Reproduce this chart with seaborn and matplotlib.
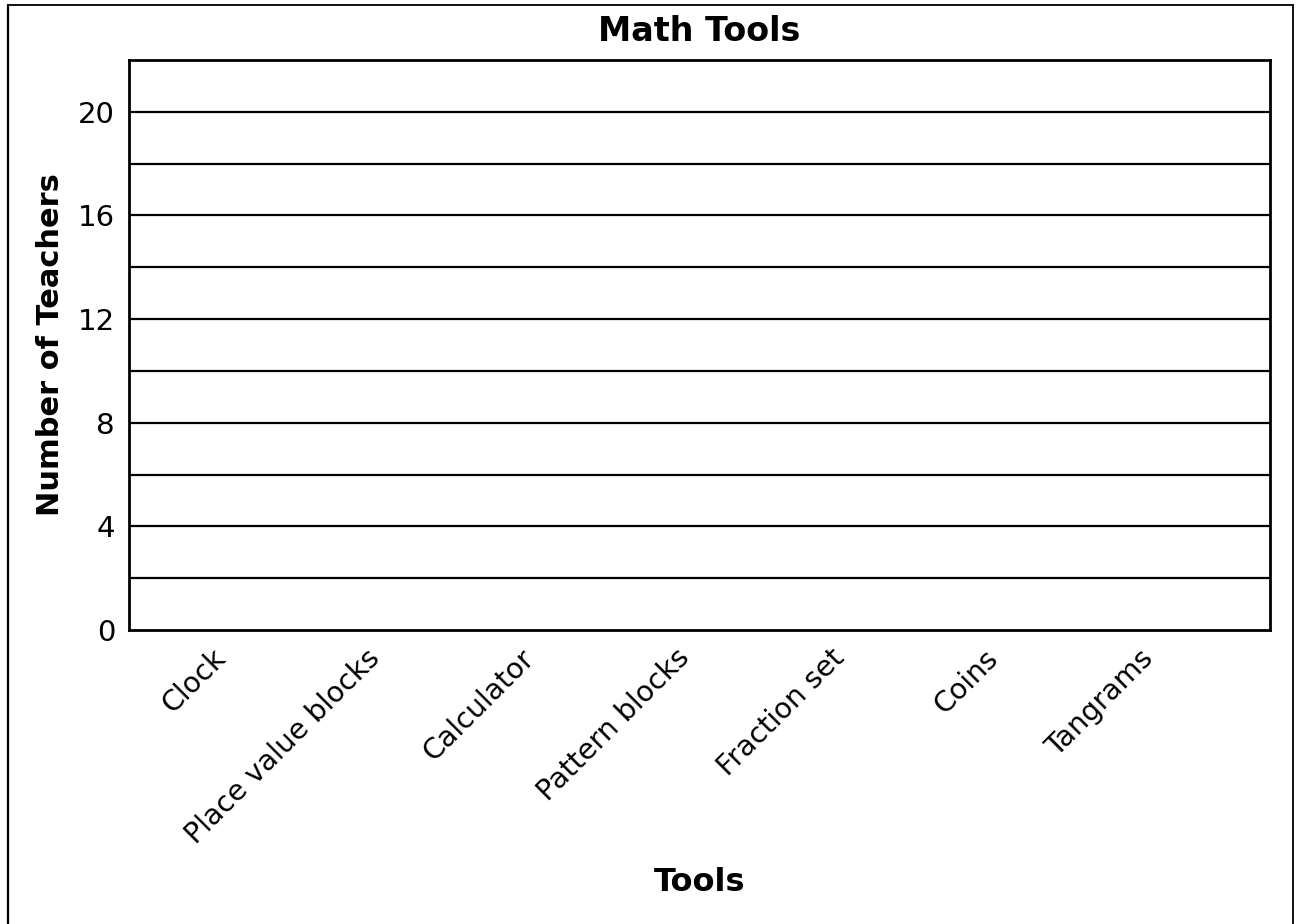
import matplotlib
matplotlib.use("Agg")
import matplotlib.pyplot as plt
from matplotlib.lines import Line2D
import seaborn as sns
import pandas as pd

# chart data (blank graph - no teachers counted yet)
tools = ['Clock', 'Place value blocks', 'Calculator', 'Pattern blocks',
         'Fraction set', 'Coins', 'Tangrams']
teachers = [0, 0, 0, 0, 0, 0, 0]
y_major = [0, 4, 8, 12, 16, 20]
y_grid = [2, 4, 6, 8, 10, 12, 14, 16, 18, 20]

sns.set_style('white')
plt.rcParams['font.family'] = ['DejaVu Sans']
plt.rcParams['text.color'] = 'black'
plt.rcParams['axes.labelcolor'] = 'black'
plt.rcParams['xtick.color'] = 'black'
plt.rcParams['ytick.color'] = 'black'

df = pd.DataFrame({'Tools': tools, 'Teachers': teachers})

fig = plt.figure(figsize=(12.99, 9.24), dpi=100)
ax = fig.add_axes([129 / 1299, (924 - 630) / 924, 1141 / 1299, 570 / 924])

sns.barplot(data=df, x='Tools', y='Teachers', color='#4c72b0', ax=ax)

# horizontal grid lines every 2
for g in y_grid:
    ax.axhline(g, color='black', lw=1.6, zorder=0)

ax.set_ylim(0, 22)
ax.set_xlim(-0.66, 6.72)
ax.set_yticks(y_major)
ax.set_yticklabels([str(v) for v in y_major], fontsize=21)
ax.set_xticks(range(len(tools)))
ax.set_xticklabels(tools, rotation=45, ha='right', fontsize=20.5)
ax.tick_params(axis='y', length=0, pad=10)
ax.tick_params(axis='x', length=0, pad=10)

for s in ax.spines.values():
    s.set_visible(True)
    s.set_color('black')
    s.set_linewidth(2)

ax.set_title('Math Tools', fontsize=24, fontweight='bold', pad=14)
ax.set_xlabel('Tools', fontsize=23, fontweight='bold', labelpad=13)
ax.set_ylabel('Number of Teachers', fontsize=22, fontweight='bold', labelpad=9)

# outer frame around the picture
W, H = 1299, 924
fig.add_artist(Line2D([8 / W, 8 / W], [0, 1 - 5 / H], color='black', lw=1.6, transform=fig.transFigure))
fig.add_artist(Line2D([8 / W, 1293 / W], [1 - 5 / H, 1 - 5 / H], color='black', lw=1.3, transform=fig.transFigure))
fig.add_artist(Line2D([1293 / W, 1293 / W], [0, 1 - 5 / H], color='black', lw=1.3, transform=fig.transFigure))

fig.savefig('out.png', dpi=100)
